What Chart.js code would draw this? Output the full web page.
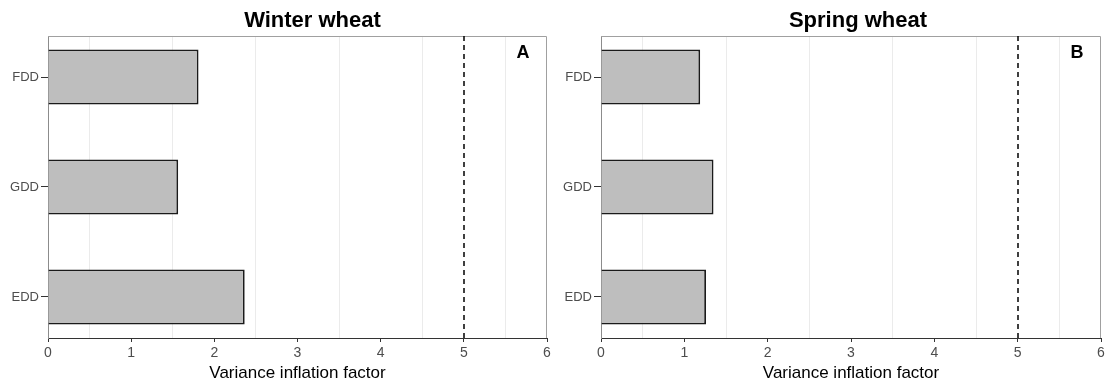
<!DOCTYPE html>
<html>
<head>
<meta charset="utf-8">
<script src="https://cdn.jsdelivr.net/npm/chart.js@4/dist/chart.umd.min.js"></script>
<style>
  html, body { margin: 0; padding: 0; background: #fff; }
  #wrap { position: relative; width: 1107px; height: 385px; }
  .panel { position: absolute; top: 0; height: 385px; }
  #panelA { left: 0; width: 553px; }
  #panelB { left: 553px; width: 554px; }
</style>
</head>
<body>
<div id="wrap">
  <div class="panel" id="panelA"><canvas id="chartA"></canvas></div>
  <div class="panel" id="panelB"><canvas id="chartB"></canvas></div>
</div>
<script>
// Predictors and their variance inflation factors per crop
const categories = ['FDD', 'GDD', 'EDD'];
const winterVif = [1.81, 1.565, 2.365];
const springVif = [1.19, 1.35, 1.26];
const xTicks = [0, 1, 2, 3, 4, 5, 6];
const vifThreshold = 5;
const panelTitles = ['Winter wheat', 'Spring wheat'];
const panelTags = ['A', 'B'];
const xAxisTitle = 'Variance inflation factor';

const FONT = "'Liberation Sans', Arial, sans-serif";

// Title, panel tag, frame and the dashed threshold line
const decorPlugin = {
  id: 'decor',
  beforeDatasetsDraw(chart) {
    const { ctx, chartArea: a } = chart;
    ctx.save();
    ctx.strokeStyle = '#a0a0a0';
    ctx.lineWidth = 1;
    ctx.beginPath();
    ctx.moveTo(a.left, a.top + 0.5);
    ctx.lineTo(a.right - 0.5, a.top + 0.5);
    ctx.lineTo(a.right - 0.5, a.bottom);
    ctx.stroke();
    ctx.restore();
  },
  afterDatasetsDraw(chart, args, opts) {
    const { ctx, chartArea: a, scales } = chart;
    ctx.save();
    const xv = Math.round(scales.x.getPixelForValue(opts.threshold));
    ctx.strokeStyle = '#000';
    ctx.lineWidth = 1.5;
    ctx.setLineDash([5, 4]);
    ctx.beginPath();
    ctx.moveTo(xv, a.top);
    ctx.lineTo(xv, a.bottom);
    ctx.stroke();
    ctx.setLineDash([]);
    ctx.fillStyle = '#000';
    ctx.font = 'bold 18px ' + FONT;
    ctx.textAlign = 'center';
    ctx.textBaseline = 'alphabetic';
    ctx.fillText(opts.tag, a.right - 24, a.top + 22);
    ctx.font = 'bold 22px ' + FONT;
    ctx.fillText(opts.title, (a.left + a.right) / 2 + opts.titleShift, 27);
    ctx.restore();
  }
};

function makeChart(id, values, idx, titleShift) {
  const points = categories.map((c, i) => ({ x: values[i], y: i }));
  return new Chart(document.getElementById(id), {
    type: 'bar',
    data: {
      datasets: [{
        data: points,
        backgroundColor: '#bebebe',
        borderColor: '#1a1a1a',
        borderWidth: 1.8,
        borderSkipped: 'start',
        barPercentage: 0.5,
        categoryPercentage: 1
      }]
    },
    plugins: [decorPlugin],
    options: {
      indexAxis: 'y',
      responsive: true,
      maintainAspectRatio: false,
      animation: false,
      events: [],
      layout: { padding: { left: 0, right: 6, top: 36, bottom: 0 } },
      scales: {
        x: {
          type: 'linear',
          min: 0,
          max: 6,
          afterFit(s) { s.height = 47; s.paddingLeft = 0; s.paddingRight = 0; },
          afterBuildTicks(s) {
            const t = [];
            xTicks.forEach((v, i) => {
              t.push({ value: v });
              if (i < xTicks.length - 1) t.push({ value: v + 0.5 });
            });
            s.ticks = t;
          },
          ticks: {
            autoSkip: false,
            maxRotation: 0,
            padding: 3,
            color: '#4d4d4d',
            font: { family: FONT, size: 14 },
            callback: (v) => (Number.isInteger(v) ? String(v) : '')
          },
          grid: {
            drawOnChartArea: true,
            color: (c) => (c.tick && !Number.isInteger(c.tick.value) ? '#ebebeb' : 'rgba(0,0,0,0)'),
            tickColor: (c) => (c.tick && Number.isInteger(c.tick.value) ? '#333333' : 'rgba(0,0,0,0)'),
            tickLength: 4,
            lineWidth: 1
          },
          border: { display: true, color: '#333333', width: 1 },
          title: {
            display: true,
            text: xAxisTitle,
            color: '#000',
            font: { family: FONT, size: 17 },
            padding: { top: 0, bottom: 1 }
          }
        },
        y: {
          type: 'linear',
          reverse: true,
          offset: false,
          bounds: 'data',
          min: -0.373,
          max: 2.373,
          afterFit(s) { s.width = 48; s.paddingTop = 0; s.paddingBottom = 0; },
          afterBuildTicks(s) { s.ticks = categories.map((c, i) => ({ value: i })); },
          ticks: {
            autoSkip: false,
            padding: 2,
            color: '#4d4d4d',
            font: { family: FONT, size: 13 },
            callback: (v) => categories[v]
          },
          grid: {
            offset: false,
            drawOnChartArea: false,
            tickColor: '#333333',
            tickLength: 7
          },
          border: { display: true, color: '#8c8c8c', width: 1 }
        }
      },
      plugins: {
        legend: { display: false },
        tooltip: { enabled: false },
        decor: { threshold: vifThreshold, tag: panelTags[idx], title: panelTitles[idx], titleShift }
      }
    }
  });
}

makeChart('chartA', winterVif, 0, 15);
makeChart('chartB', springVif, 1, 7);
</script>
</body>
</html>
